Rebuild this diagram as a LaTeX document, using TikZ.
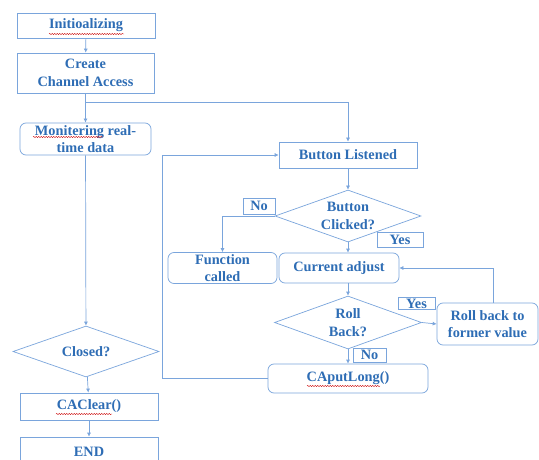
\documentclass[tikz,border=0pt]{standalone}
\usepackage{fontspec}
\setmainfont{Liberation Serif}
\usetikzlibrary{arrows.meta,shapes.geometric,decorations.pathmorphing}
\definecolor{lncol}{HTML}{7AA5DC}
\definecolor{txcol}{HTML}{2E6DB5}
\begin{document}
\begin{tikzpicture}[x=1pt,y=-1pt,
  base/.style={draw=lncol, line width=0.7pt, text=txcol, font=\fontsize{14.3}{17.5}\selectfont\bfseries, align=center, inner sep=0pt},
  rbox/.style={base, rectangle},
  rnd/.style={base, rectangle, rounded corners=6pt},
  dia/.style={base, diamond, aspect=2.8},
  tag/.style={base, rectangle, line width=0.6pt},
  arr/.style={draw=lncol, line width=0.7pt, -{Latex[length=4pt,width=4pt]}},
  squig/.style={draw=red!80!black, line width=0.35pt, decorate, decoration={snake, amplitude=0.6pt, segment length=2.5pt}}]
\fill[white] (0,0) rectangle (539,460);
\useasboundingbox (0,0) rectangle (539,460);
% left column
\node[rbox, minimum width=138pt, minimum height=25pt] (init) at (86,25.5) {Initioalizing};
\node[rbox, minimum width=137pt, minimum height=40pt] (create) at (85.5,73) {Create\\Channel Access};
\node[rnd, minimum width=131pt, minimum height=32pt] (mon) at (85.5,139) {Monitering real-\\time data};
\node[dia, minimum width=146pt, minimum height=51pt] (closed) at (86,351.5) {Closed?};
\node[rbox, minimum width=138pt, minimum height=27pt] (clear) at (89,406.5) {CAClear()};
\node[rbox, minimum width=138pt, minimum height=30pt] (end) at (89,452) {END};
% right part
\node[rbox, minimum width=138pt, minimum height=26pt] (listen) at (348,155) {Button Listened};
\node[dia, minimum width=146pt, minimum height=52pt] (click) at (348,216) {Button\\Clicked?};
\node[tag, minimum width=32pt, minimum height=16pt] (no1) at (259,206) {No};
\node[tag, minimum width=46pt, minimum height=15pt] (yes1) at (400,239.5) {Yes};
\node[rnd, minimum width=109pt, minimum height=31pt] (func) at (222.5,268) {Function\\called};
\node[rnd, minimum width=120pt, minimum height=30pt] (cur) at (339,268) {Current adjust};
\node[dia, minimum width=147pt, minimum height=53pt] (roll) at (348,322.5) {Roll\\Back?};
\node[tag, minimum width=37pt, minimum height=12pt] (yes2) at (416.5,303.5) {Yes};
\node[tag, minimum width=33pt, minimum height=14pt] (no2) at (369.5,355) {No};
\node[rnd, minimum width=101pt, minimum height=42pt] (rb) at (487.5,324) {Roll back to\\former value};
\node[rnd, minimum width=160pt, minimum height=29pt] (put) at (348,378.5) {CAputLong()};
% connectors
\coordinate (br) at (86,102);
\draw[arr] (init) -- (create);
\draw[arr] (create) -- (mon);
\draw[arr] (br) -| (listen.north);
\draw[arr] (mon) -- (closed);
\draw[arr] (closed) -- (clear);
\draw[arr] (clear) -- (end);
\draw[arr] (put.west) -- ++(-105,0) |- (listen.west);
\draw[arr] (listen) -- (click);
\draw[arr] (click.west) -| (func.north);
\draw[arr] (click.south) -- (click.south |- cur.north);
\draw[arr] (cur.south -| roll.north) -- (roll.north);
\draw[arr] (roll.east) -- (rb.west);
\draw[arr] ([xshift=5.5pt]rb.north) |- (cur.east);
\draw[arr] (roll.south) -- (put.north);
% spell-check squiggles
\draw[squig] (49,34) -- (124,34);
\draw[squig] (33,137) -- (103,137);
\draw[squig] (56,414) -- (112,414);
\draw[squig] (307,386) -- (380,386);
\end{tikzpicture}
\end{document}
